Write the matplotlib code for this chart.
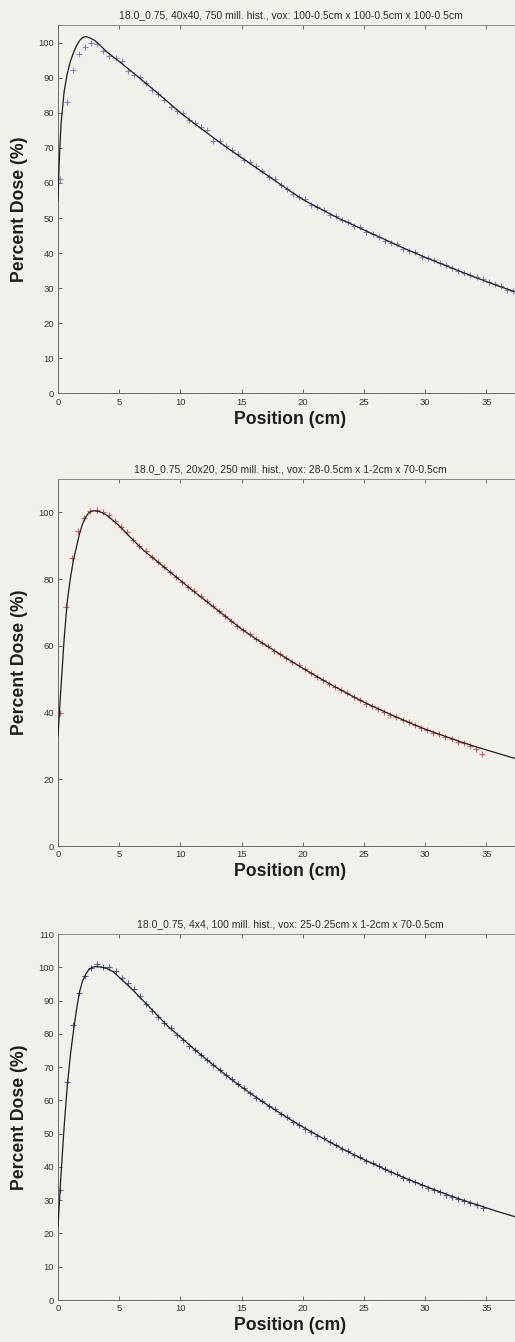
import numpy as np
import matplotlib
matplotlib.use("Agg")
import matplotlib.pyplot as plt

plt.rcParams["font.family"] = ["Liberation Sans", "DejaVu Sans"]

# ---- calculated depth-dose curves (black lines) ----
calc_depth_1 = [0, 0.1, 0.25, 0.5, 0.75, 1.0, 1.25, 1.5, 1.75, 2.0, 2.25, 2.5, 3, 3.5, 4,
                5, 6, 7, 8, 9, 10, 11, 12, 13, 14, 15, 16, 17, 18, 19, 20, 21, 22, 23, 24,
                25, 26, 27, 28, 29, 30, 31, 32, 33, 34, 35, 36, 37, 38, 39, 40]
calc_dose_1 = [55.0, 66.0, 77.0, 86.0, 91.0, 94.5, 97.0, 99.0, 100.5, 101.4, 101.7, 101.5, 100.6, 99.0, 97.3,
               94.6, 91.8, 88.9, 86.0, 83.0, 80.0, 77.3, 74.7, 72.1, 69.6, 67.2, 64.8, 62.4, 60.0, 57.6, 55.3,
               53.4, 51.6, 49.8, 48.2, 46.6, 45.0, 43.4, 41.8, 40.3, 38.8, 37.4, 36.0, 34.6, 33.2, 31.9,
               30.6, 29.4, 28.2, 27.1, 26.0]

calc_depth_2 = [0, 0.2, 0.5, 0.75, 1.0, 1.25, 1.5, 1.75, 2.0, 2.25, 2.5, 2.75, 3.0, 3.5, 4,
                5, 6, 7, 8, 9, 10, 11, 12, 13, 14, 15, 16, 17, 18, 19, 20, 21, 22, 23, 24,
                25, 26, 27, 28, 29, 30, 31, 32, 33, 34, 35, 36, 37, 38, 39, 40]
calc_dose_2 = [33.0, 45.0, 62.0, 73.0, 80.0, 85.5, 89.5, 93.5, 96.5, 98.5, 99.8, 100.4, 100.5, 100.1, 99.1,
               96.0, 92.2, 88.6, 85.6, 82.6, 79.6, 76.6, 73.7, 70.8, 67.9, 65.0, 62.5, 60.1, 57.8, 55.5, 53.3,
               51.1, 49.0, 47.0, 45.0, 43.1, 41.4, 39.7, 38.1, 36.5, 35.0, 33.7, 32.4, 31.1, 29.9, 28.8,
               27.7, 26.6, 25.6, 24.6, 23.7]

calc_depth_3 = [0, 0.2, 0.5, 0.75, 1.0, 1.25, 1.5, 1.75, 2.0, 2.25, 2.5, 2.75, 3.0, 3.5, 4, 4.5,
                5, 6, 7, 8, 9, 10, 11, 12, 13, 14, 15, 16, 17, 18, 19, 20, 21, 22, 23, 24,
                25, 26, 27, 28, 29, 30, 31, 32, 33, 34, 35, 36, 37, 38, 39, 40]
calc_dose_3 = [22.0, 35.0, 52.0, 64.0, 73.2, 80.5, 87.0, 92.5, 95.8, 97.8, 99.2, 99.9, 100.2, 100.1, 99.6, 98.7,
               97.0, 93.6, 89.8, 86.0, 82.2, 79.0, 75.8, 72.7, 69.7, 66.8, 64.0, 61.4, 58.9, 56.5, 54.2, 52.0,
               49.9, 47.9, 45.9, 44.0, 42.2, 40.5, 38.8, 37.2, 35.7, 34.2, 32.8, 31.4, 30.1, 28.9, 27.7,
               26.5, 25.4, 24.3, 23.3, 22.3]

# ---- Monte Carlo voxel doses ('+' markers), 0.5 cm voxels ----
mc_depth_1 = np.arange(0.2, 40.0, 0.5)
mc_dose_1 = [61.0, 83.0, 92.1, 96.6, 98.8, 99.9, 99.6, 97.7, 96.3, 95.6,
             94.7, 92.0, 90.8, 90.3, 88.4, 86.4, 85.2, 83.6, 81.6, 80.6,
             79.8, 77.9, 77.2, 76.0, 75.2, 72.0, 71.9, 70.6, 69.3, 68.3,
             66.5, 65.9, 64.7, 63.4, 61.6, 61.0, 59.4, 58.4, 56.8, 55.9,
             55.3, 53.6, 53.1, 52.3, 51.0, 50.5, 49.3, 48.8, 47.6, 47.4,
             46.0, 45.4, 44.7, 43.5, 43.0, 42.6, 41.2, 40.6, 40.3, 39.0,
             38.5, 37.9, 37.3, 36.5, 35.9, 35.0, 34.3, 33.8, 33.1, 32.5,
             31.7, 31.1, 30.5, 29.6, 29.2, 28.7, 28.0, 27.5, 27.0, 26.4]

mc_depth_2 = np.arange(0.15, 35.0, 0.5)
mc_dose_2 = [40.0, 71.6, 86.4, 94.5, 98.2, 100.3, 100.6, 100.2, 99.2, 97.4,
             95.6, 94.0, 91.8, 89.9, 88.4, 86.5, 85.0, 83.6, 82.0, 80.7,
             79.0, 77.7, 76.3, 74.8, 73.3, 71.9, 70.5, 69.0, 67.5, 66.0,
             64.6, 63.4, 62.0, 60.9, 59.8, 58.5, 57.5, 56.4, 55.2, 54.2,
             53.1, 51.8, 50.8, 49.8, 48.7, 47.7, 46.7, 45.8, 44.6, 43.8,
             42.7, 42.0, 41.0, 40.3, 39.3, 38.7, 37.7, 37.1, 36.2, 35.4,
             34.8, 34.0, 33.5, 32.8, 32.1, 31.2, 30.8, 30.0, 29.2, 27.5]

mc_depth_3 = np.arange(0.2, 35.0, 0.5)
mc_dose_3 = [33.0, 65.5, 82.8, 92.3, 97.4, 99.9, 101.1, 100.0, 100.2, 98.8,
             96.9, 95.4, 93.4, 91.3, 88.9, 87.0, 85.1, 83.2, 81.7, 79.6,
             78.1, 76.4, 75.0, 73.6, 72.0, 70.7, 69.0, 67.6, 66.4, 64.8,
             63.6, 62.2, 60.8, 59.7, 58.2, 57.3, 56.0, 54.9, 53.6, 52.7,
             51.5, 50.5, 49.4, 48.6, 47.4, 46.6, 45.4, 44.7, 43.6, 42.9,
             41.9, 41.1, 40.2, 39.4, 38.4, 37.8, 36.8, 36.2, 35.4, 34.6,
             33.8, 33.2, 32.4, 31.7, 31.1, 30.4, 29.9, 29.2, 28.5, 27.8]

titles = [
    "18.0_0.75, 40x40, 750 mill. hist., vox: 100-0.5cm x 100-0.5cm x 100-0.5cm",
    "18.0_0.75, 20x20, 250 mill. hist., vox: 28-0.5cm x 1-2cm x 70-0.5cm",
    "18.0_0.75, 4x4, 100 mill. hist., vox: 25-0.25cm x 1-2cm x 70-0.5cm",
]
y_ticks = [list(range(0, 101, 10)), list(range(0, 101, 20)), list(range(0, 111, 10))]
y_limits = [(0, 105), (0, 110), (0, 110)]
x_ticks = list(range(0, 40, 5))
marker_colors = ["#7d74bd", "#d8484a", "#45508f"]

bg = "#f1f1ec"
W, H = 515, 1342
fig = plt.figure(figsize=(W / 100, H / 100), dpi=100, facecolor=bg)

# axes boxes in pixels: (left, top, bottom); x range 0-38 cm at 12.24 px/cm
px_per_cm = 12.24
x_max = 38
boxes = [(58, 25, 393.5), (58, 479, 846), (58, 934, 1300)]

series = [
    (calc_depth_1, calc_dose_1, mc_depth_1, mc_dose_1),
    (calc_depth_2, calc_dose_2, mc_depth_2, mc_dose_2),
    (calc_depth_3, calc_dose_3, mc_depth_3, mc_dose_3),
]

for i, (left, top, bottom) in enumerate(boxes):
    width_px = x_max * px_per_cm
    ax = fig.add_axes([left / W, 1 - bottom / H, width_px / W, (bottom - top) / H])
    ax.set_facecolor(bg)
    cd, cv, md, mv = series[i]
    ax.plot(md, mv, linestyle="none", marker="+", markersize=5,
            markeredgewidth=0.8, color=marker_colors[i], alpha=0.9, zorder=2)
    ax.plot(cd, cv, color="#1e1e1e", linewidth=0.9, zorder=3)

    ax.set_xlim(0, x_max)
    ax.set_ylim(*y_limits[i])
    ax.set_xticks(x_ticks)
    ax.set_yticks(y_ticks[i])
    ax.tick_params(direction="in", length=3, width=0.6, colors="#555555",
                   labelcolor="#333333", labelsize=6.8, pad=3, top=True)
    for side, sp in ax.spines.items():
        sp.set_color("#6a6a6a")
        sp.set_linewidth(0.7)
    ax.spines["top"].set_color("#8a8a8a")
    ax.spines["top"].set_linestyle((0, (1, 0.6)))
    ax.spines["bottom"].set_linestyle((0, (2, 0.6)))

    ax.set_title(titles[i], fontsize=7.5, color="#2a2a2a", pad=5)
    ax.set_xlabel("Position (cm)", fontsize=12.7, fontweight="bold",
                  color="#1e1e1e", labelpad=3)
    ax.set_ylabel("Percent Dose (%)", fontsize=12.7, fontweight="bold",
                  color="#1e1e1e")
    ax.yaxis.set_label_coords(-30 / width_px, 0.5)

fig.savefig("out.png", dpi=100, facecolor=bg)
